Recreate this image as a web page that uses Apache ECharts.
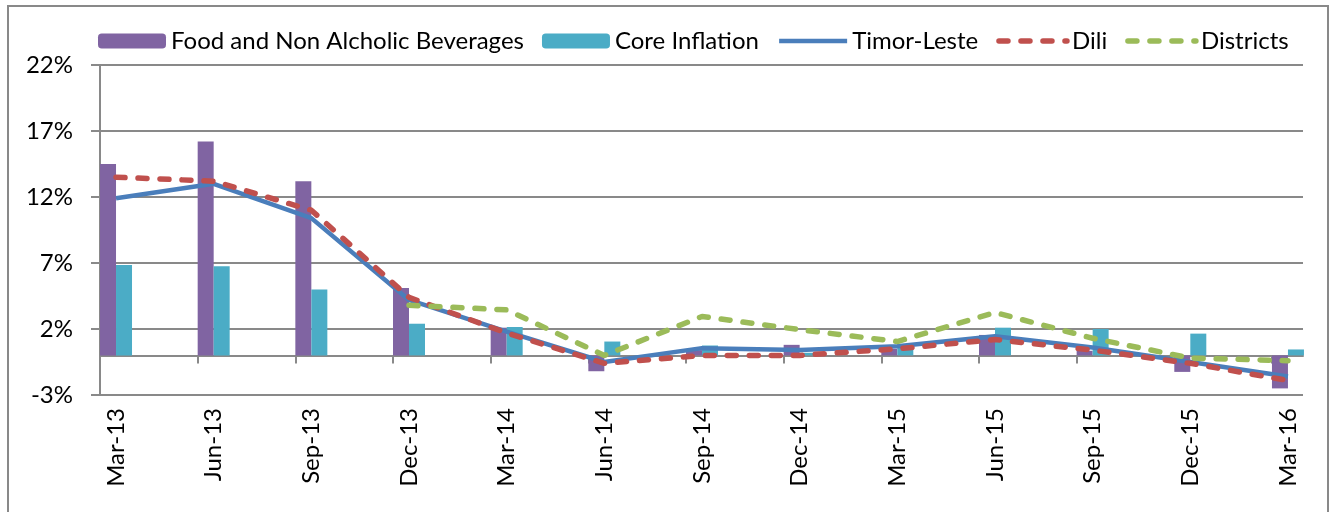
<!DOCTYPE html>
<html>
<head>
<meta charset="utf-8">
<script src="https://cdn.jsdelivr.net/npm/echarts@6/dist/echarts.min.js"></script>
<style>
    html, body { margin: 0; padding: 0; background: #fff; }
    #chart { width: 1335px; height: 512px; }
</style>
</head>
<body>
<div id="chart"></div>
<script>
    // quarters on the x axis
    var categories = ['Mar-13', 'Jun-13', 'Sep-13', 'Dec-13', 'Mar-14', 'Jun-14', 'Sep-14', 'Dec-14', 'Mar-15', 'Jun-15', 'Sep-15', 'Dec-15', 'Mar-16'];
    // bars
    var foodBev = [14.5, 16.2, 13.2, 5.1, 2.1, -1.2, 0.4, 0.8, 0.5, 1.55, 0.35, -1.25, -2.5];
    var coreInflation = [6.85, 6.75, 5.0, 2.4, 2.15, 1.05, 0.75, 0.2, 0.6, 2.1, 2.0, 1.65, 0.45];
    // lines
    var timorLeste = [11.9, 13.0, 10.4, 4.2, 1.8, -0.5, 0.55, 0.4, 0.7, 1.45, 0.6, -0.5, -1.6];
    var dili = [13.5, 13.2, 11.0, 4.4, 1.7, -0.6, 0.0, 0.0, 0.5, 1.2, 0.4, -0.6, -1.9];
    var districts = [null, null, null, 3.8, 3.45, 0.0, 2.95, 1.95, 1.05, 3.25, 1.3, -0.2, -0.4];

    var FONT = 'Lato';
    var GRAY = '#898989';
    var tickShift = 0.164; // ticks sit a little left of each category point

    function pairs(arr) {
        return arr.map(function (v, i) { return [i, v]; });
    }

    var myChart = echarts.init(document.getElementById('chart'));
    myChart.setOption({
        animation: false,
        textStyle: { fontFamily: FONT, color: '#000' },
        graphic: [{
            type: 'rect',
            shape: { x: 8, y: 6, width: 1320, height: 520 },
            style: { fill: 'none', stroke: GRAY, lineWidth: 2 },
            silent: true
        }],
        legend: {
            left: 93,
            top: 24,
            itemWidth: 68,
            itemHeight: 15,
            itemGap: 18,
            textStyle: { fontFamily: FONT, fontSize: 24, color: '#000' },
            data: [
                'Food and Non Alcholic Beverages',
                'Core Inflation',
                //legend line icons without the dot
                { name: 'Timor-Leste', itemStyle: { opacity: 0 }, lineStyle: { width: 4.5 } },
                { name: 'Dili', itemStyle: { opacity: 0 }, lineStyle: { width: 5.5 } },
                { name: 'Districts', itemStyle: { opacity: 0 }, lineStyle: { width: 5.5 } }
            ]
        },
        grid: { left: 100, right: 32, top: 65, bottom: 117 },
        xAxis: [{
            type: 'value',
            min: -tickShift,
            max: 12.154,
            axisLine: { onZero: true, lineStyle: { color: GRAY, width: 2 } },
            axisTick: {
                show: true, length: 8,
                customValues: categories.map(function (c, i) { return i - tickShift; }),
                lineStyle: { color: GRAY, width: 2 }
            },
            axisLabel: { show: false },
            splitLine: { show: false }
        }, {
            type: 'value',
            position: 'bottom',
            min: -tickShift,
            max: 12.154,
            axisLine: { show: false, onZero: false },
            axisTick: { show: false },
            splitLine: { show: false },
            axisLabel: {
                rotate: 90,
                margin: 13,
                fontSize: 24,
                fontFamily: FONT,
                color: '#000',
                customValues: categories.map(function (c, i) { return i; }),
                formatter: function (v) { return categories[Math.round(v)]; }
            }
        }],
        yAxis: {
            type: 'value',
            min: -3,
            max: 22,
            interval: 5,
            axisLine: { show: true, onZero: false, lineStyle: { color: GRAY, width: 2 } },
            axisTick: { show: true, length: 9, lineStyle: { color: GRAY, width: 2 } },
            axisLabel: { formatter: '{value}%', fontSize: 24, margin: 27, color: '#000', fontFamily: FONT },
            splitLine: { lineStyle: { color: GRAY, width: 2 } }
        },
        series: [
            {
                name: 'Food and Non Alcholic Beverages',
                type: 'bar',
                barWidth: 16,
                barGap: 0,
                itemStyle: { color: '#8064A2' },
                data: pairs(foodBev)
            },
            {
                name: 'Core Inflation',
                type: 'bar',
                barWidth: 16,
                barGap: 0,
                itemStyle: { color: '#4BACC6' },
                data: pairs(coreInflation)
            },
            {
                name: 'Timor-Leste',
                type: 'line',
                symbol: 'none',
                lineStyle: { color: '#4A7EBB', width: 4.5 },
                itemStyle: { color: '#4A7EBB' },
                data: pairs(timorLeste)
            },
            {
                name: 'Dili',
                type: 'line',
                symbol: 'none',
                lineStyle: { color: '#C0504D', width: 5.5, type: [9, 13], cap: 'round' },
                itemStyle: { color: '#C0504D' },
                data: pairs(dili)
            },
            {
                name: 'Districts',
                type: 'line',
                symbol: 'none',
                connectNulls: false,
                lineStyle: { color: '#9BBB59', width: 5.5, type: [9, 13], cap: 'round' },
                itemStyle: { color: '#9BBB59' },
                data: pairs(districts)
            }
        ]
    });

    window.addEventListener('resize', function () {
        myChart.resize();
    });
</script>
</body>
</html>
